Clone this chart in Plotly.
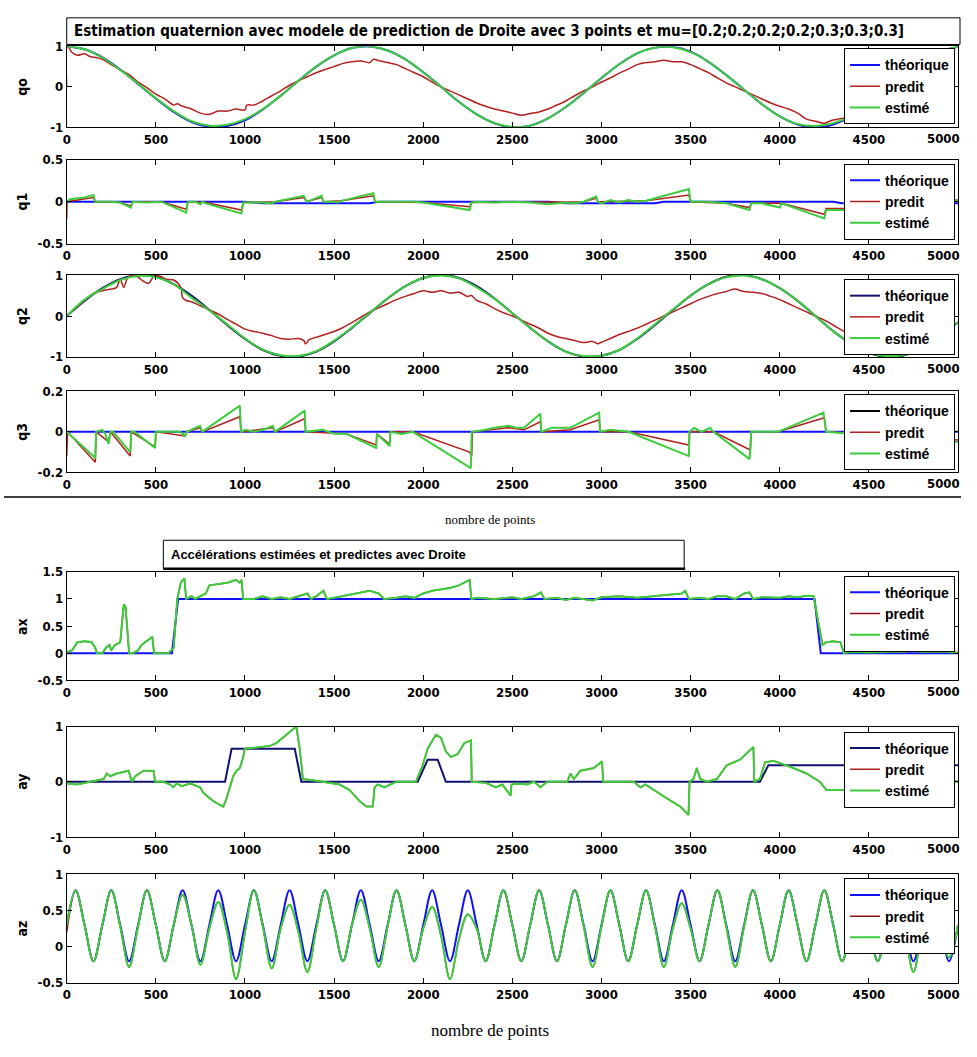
import plotly.graph_objects as go

# ---------------- DATA ----------------
X100 = list(range(0, 5001, 100))
X50 = list(range(0, 5001, 50))

Q0_THEO = [1.00, 0.93, 0.73, 0.43, 0.07, -0.29, -0.62, -0.87, -0.99, -0.97, -0.83,
           -0.56, -0.22, 0.15, 0.50, 0.78, 0.96, 1.00, 0.90, 0.68, 0.36,
           0.00, -0.37, -0.68, -0.90, -1.00, -0.96, -0.78, -0.50, -0.15, 0.22,
           0.56, 0.83, 0.97, 0.99, 0.87, 0.62, 0.29, -0.07, -0.43, -0.73,
           -0.93, -1.00, -0.93, -0.73, -0.43, -0.07, 0.29, 0.62, 0.87, 0.99]
Q0_EST = [1.00, 0.93, 0.72, 0.42, 0.08, -0.28, -0.60, -0.85, -0.96, -0.94, -0.80,
          -0.55, -0.22, 0.15, 0.50, 0.78, 0.96, 1.00, 0.90, 0.68, 0.36,
          0.00, -0.37, -0.68, -0.90, -0.99, -0.96, -0.78, -0.50, -0.15, 0.22,
          0.56, 0.83, 0.97, 0.98, 0.86, 0.62, 0.29, -0.07, -0.43, -0.73,
          -0.92, -0.97, -0.90, -0.72, -0.43, -0.07, 0.29, 0.62, 0.87, 0.99]
Q0_PRED = [(0, 0.0), (5, 1.0), (30, 0.85), (60, 0.78), (100, 0.82), (130, 0.75), (170, 0.72),
           (200, 0.68), (250, 0.55), (300, 0.42), (350, 0.30), (400, 0.12), (450, -0.02),
           (500, -0.18), (550, -0.30), (600, -0.45), (620, -0.42), (650, -0.48), (700, -0.55),
           (750, -0.65), (800, -0.68), (850, -0.60), (900, -0.60), (950, -0.55), (1000, -0.57),
           (1010, -0.45), (1050, -0.45), (1100, -0.35), (1150, -0.22), (1200, -0.10), (1250, 0.04),
           (1300, 0.15), (1350, 0.25), (1400, 0.35), (1450, 0.43), (1500, 0.50), (1550, 0.58),
           (1600, 0.62), (1650, 0.64), (1700, 0.60), (1720, 0.68), (1750, 0.65), (1800, 0.60),
           (1850, 0.55), (1900, 0.45), (1950, 0.35), (2000, 0.25), (2050, 0.12), (2100, 0.0),
           (2150, -0.10), (2200, -0.20), (2250, -0.30), (2300, -0.40), (2350, -0.48), (2400, -0.55),
           (2450, -0.60), (2500, -0.65), (2550, -0.70), (2600, -0.66), (2650, -0.62), (2700, -0.55),
           (2750, -0.45), (2800, -0.35), (2850, -0.22), (2900, -0.10), (2950, 0.0), (3000, 0.12),
           (3050, 0.22), (3100, 0.34), (3150, 0.44), (3200, 0.55), (3250, 0.60), (3300, 0.62),
           (3350, 0.66), (3400, 0.62), (3450, 0.62), (3500, 0.55), (3550, 0.45), (3600, 0.35),
           (3650, 0.22), (3700, 0.10), (3750, 0.0), (3800, -0.10), (3850, -0.20), (3900, -0.30),
           (3950, -0.40), (4000, -0.48), (4050, -0.55), (4100, -0.65), (4150, -0.80), (4200, -0.85),
           (4250, -0.90), (4280, -0.85), (4300, -0.82), (4350, -0.78), (4400, -0.72), (4500, -0.43),
           (4600, -0.07), (4700, 0.29), (4800, 0.62), (4900, 0.87), (5000, 0.99)]

Q1_THEO = [(0, 0.0), (1000, 0.0), (1100, -0.02), (1700, -0.02), (1750, 0.0), (2700, 0.0),
           (2800, -0.02), (3300, -0.02), (3350, 0.0), (4300, 0.0), (4350, -0.02), (5000, -0.02)]
Q1_EST = [(0, 0.0), (20, 0.03), (100, 0.05), (150, 0.08), (160, 0.0), (250, 0.0), (300, -0.01),
          (360, -0.07), (370, 0.0), (450, -0.01), (530, 0.0), (670, -0.13), (680, 0.0), (720, 0.0),
          (750, -0.03), (760, 0.0), (780, -0.02), (980, -0.14), (990, -0.01), (1100, -0.01),
          (1150, -0.02), (1170, 0.0), (1330, 0.07), (1345, 0.0), (1360, 0.01), (1430, 0.07),
          (1440, 0.0), (1500, 0.0), (1520, -0.01), (1540, 0.01), (1720, 0.10), (1730, 0.0),
          (1800, 0.0), (1950, 0.0), (2000, -0.01), (2260, -0.10), (2270, -0.01), (2300, 0.0),
          (2400, -0.01), (2500, 0.0), (2600, -0.01), (2700, -0.03), (2800, -0.01), (2850, -0.02),
          (2900, 0.0), (2970, 0.06), (2980, 0.0), (3000, -0.02), (3050, 0.02), (3100, -0.01),
          (3150, 0.02), (3200, 0.0), (3250, 0.01), (3490, 0.15), (3500, 0.0), (3600, 0.0),
          (3700, -0.02), (3830, -0.10), (3840, -0.02), (3900, -0.02), (4000, -0.07), (4010, -0.02),
          (4250, -0.20), (4260, -0.10), (4400, -0.10), (4700, -0.05), (5000, 0.02)]
Q1_PRED = [(0, -0.2), (2, 0.0), (150, 0.05), (160, 0.0), (300, -0.01), (360, -0.05), (370, 0.0),
           (530, 0.0), (670, -0.09), (680, 0.0), (780, -0.01), (980, -0.10), (990, -0.01),
           (1170, 0.0), (1330, 0.05), (1345, 0.0), (1430, 0.05), (1440, 0.0), (1540, 0.01),
           (1720, 0.07), (1730, 0.0), (2000, -0.01), (2260, -0.06), (2270, -0.01), (2900, 0.0),
           (2970, 0.04), (2980, 0.0), (3250, 0.01), (3490, 0.08), (3500, 0.0), (3700, -0.02),
           (3830, -0.07), (3840, -0.02), (4010, -0.02), (4250, -0.15), (4260, -0.08),
           (4400, -0.08), (4700, -0.04), (5000, 0.02)]

Q2_THEO = [0.00, 0.37, 0.68, 0.90, 1.00, 0.96, 0.78, 0.50, 0.15, -0.22, -0.56,
           -0.83, -0.97, -0.99, -0.87, -0.62, -0.29, 0.07, 0.43, 0.73, 0.93,
           1.00, 0.93, 0.73, 0.43, 0.07, -0.29, -0.62, -0.87, -0.99, -0.97,
           -0.83, -0.56, -0.22, 0.15, 0.50, 0.78, 0.96, 1.00, 0.90, 0.68,
           0.37, 0.00, -0.37, -0.68, -0.90, -1.00, -0.96, -0.78, -0.50, -0.15]
Q2_EST = [0.00, 0.40, 0.66, 0.88, 0.98, 0.95, 0.78, 0.45, 0.14, -0.20, -0.55,
          -0.82, -0.96, -0.98, -0.86, -0.60, -0.28, 0.08, 0.43, 0.73, 0.93,
          0.99, 0.92, 0.70, 0.42, 0.07, -0.29, -0.62, -0.87, -0.98, -0.97,
          -0.83, -0.55, -0.20, 0.16, 0.50, 0.78, 0.95, 0.99, 0.90, 0.68,
          0.37, 0.00, -0.37, -0.68, -0.90, -0.98, -0.95, -0.78, -0.50, -0.15]
Q2_PRED = [(0, 0.0), (50, 0.2), (100, 0.38), (150, 0.55), (200, 0.62), (250, 0.66), (280, 0.70),
           (300, 0.90), (320, 0.70), (340, 0.92), (370, 1.0), (400, 0.95), (430, 0.85), (460, 0.80),
           (490, 0.98), (520, 0.98), (560, 0.90), (600, 0.88), (640, 0.70), (650, 0.45), (670, 0.38),
           (700, 0.35), (750, 0.25), (800, 0.15), (850, 0.05), (900, -0.08), (950, -0.20),
           (1000, -0.32), (1050, -0.38), (1100, -0.42), (1150, -0.48), (1200, -0.55), (1250, -0.57),
           (1300, -0.55), (1330, -0.60), (1340, -0.68), (1360, -0.58), (1400, -0.52), (1450, -0.45),
           (1500, -0.38), (1550, -0.28), (1600, -0.16), (1650, -0.03), (1700, 0.10), (1750, 0.20),
           (1800, 0.30), (1850, 0.40), (1900, 0.48), (1950, 0.55), (2000, 0.62), (2050, 0.58),
           (2100, 0.62), (2150, 0.56), (2200, 0.58), (2250, 0.48), (2270, 0.50), (2300, 0.38),
           (2350, 0.30), (2400, 0.18), (2450, 0.08), (2500, 0.0), (2550, -0.10), (2600, -0.20),
           (2650, -0.30), (2700, -0.42), (2750, -0.50), (2800, -0.55), (2850, -0.60), (2900, -0.65),
           (2950, -0.62), (2980, -0.68), (3000, -0.64), (3050, -0.55), (3100, -0.45), (3150, -0.38),
           (3200, -0.30), (3250, -0.20), (3300, -0.10), (3350, 0.0), (3400, 0.10), (3450, 0.20),
           (3500, 0.30), (3550, 0.40), (3600, 0.48), (3650, 0.55), (3700, 0.60), (3750, 0.66),
           (3780, 0.62), (3800, 0.60), (3850, 0.58), (3900, 0.55), (3950, 0.48), (4000, 0.40),
           (4050, 0.30), (4100, 0.20), (4150, 0.10), (4200, 0.0), (4250, -0.10), (4300, -0.22),
           (4350, -0.35), (4400, -0.45), (4450, -0.55), (4500, -0.78), (4550, -0.88), (4600, -0.88),
           (4650, -0.75), (4700, -0.78), (4720, -0.55), (4740, -0.80), (4800, -0.75), (4850, -0.62),
           (4900, -0.50), (5000, -0.15)]

Q3_THEO = [(0, 0.0), (5000, 0.0)]
Q3_EST = [(0, 0.0), (160, -0.13), (165, 0.0), (200, 0.01), (216, -0.01), (235, -0.06), (245, 0.0),
          (260, 0.0), (356, -0.10), (362, 0.0), (380, 0.0), (496, -0.08), (500, 0.0), (636, 0.0),
          (664, -0.02), (673, 0.0), (748, 0.03), (760, 0.0), (971, 0.13), (978, 0.0), (1000, 0.01),
          (1050, 0.0), (1101, 0.01), (1157, 0.03), (1168, 0.0), (1335, 0.105), (1340, 0.0),
          (1437, 0.01), (1500, -0.01), (1568, -0.01), (1736, -0.08), (1740, -0.01), (1811, -0.07),
          (1816, 0.0), (1880, -0.01), (1941, 0.0), (2267, -0.18), (2272, 0.0), (2350, 0.01),
          (2400, 0.02), (2478, 0.03), (2520, 0.02), (2565, 0.02), (2657, 0.09), (2662, 0.0),
          (2720, 0.02), (2825, 0.02), (2987, 0.095), (2992, 0.0), (3050, 0.01), (3152, 0.0),
          (3490, -0.12), (3494, 0.0), (3520, 0.02), (3560, 0.0), (3610, 0.02), (3628, 0.0),
          (3831, -0.135), (3840, 0.0), (3952, 0.0), (3990, 0.0), (4245, 0.095), (4260, 0.0),
          (5000, -0.05)]
Q3_PRED = [(0, -0.12), (5, 0.0), (160, -0.15), (165, 0.0), (235, -0.05), (245, 0.0),
           (356, -0.12), (362, 0.0), (496, -0.075), (500, 0.0), (664, -0.02), (673, 0.0),
           (748, 0.02), (760, 0.0), (971, 0.075), (978, 0.0), (1157, 0.02), (1168, 0.0),
           (1335, 0.065), (1340, 0.0), (1568, -0.01), (1736, -0.065), (1740, -0.01), (1811, -0.06),
           (1816, 0.0), (1941, 0.0), (2260, -0.10), (2272, -0.12), (2276, 0.0), (2478, 0.02),
           (2565, 0.01), (2657, 0.05), (2662, 0.0), (2825, 0.01), (2987, 0.06), (2992, 0.0),
           (3152, 0.0), (3490, -0.065), (3494, 0.0), (3628, 0.0), (3835, -0.09), (3840, 0.0),
           (3990, 0.0), (4250, 0.07), (4260, 0.0), (5000, -0.04)]

AX_THEO = [(0, 0.0), (590, 0.0), (625, 1.0), (4195, 1.0), (4230, 0.0), (5000, 0.0)]
AX_EST = [(0, 0.02), (30, 0.05), (60, 0.20), (100, 0.22), (140, 0.20), (160, 0.10), (170, 0.0),
          (200, 0.0), (220, 0.10), (240, 0.15), (250, 0.05), (270, 0.15), (300, 0.20), (320, 0.90),
          (330, 0.85), (350, 0.0), (370, 0.0), (400, 0.05), (420, 0.15), (440, 0.20), (460, 0.25),
          (480, 0.30), (490, 0.0), (570, 0.0), (600, 0.10), (620, 1.0), (640, 1.30), (660, 1.38),
          (670, 1.0), (700, 1.05), (720, 1.0), (750, 1.05), (780, 1.10), (800, 1.25), (850, 1.28),
          (900, 1.30), (950, 1.35), (970, 1.30), (980, 1.35), (990, 1.0), (1050, 1.0), (1100, 1.05),
          (1150, 1.0), (1200, 1.03), (1250, 1.0), (1300, 1.05), (1350, 1.10), (1370, 1.0),
          (1400, 1.05), (1440, 1.15), (1460, 1.0), (1500, 1.02), (1550, 1.05), (1600, 1.08),
          (1650, 1.12), (1700, 1.15), (1750, 1.10), (1780, 1.0), (1850, 1.02), (1900, 1.05),
          (1950, 1.02), (2000, 1.10), (2050, 1.15), (2100, 1.18), (2150, 1.20), (2200, 1.25),
          (2240, 1.32), (2260, 1.35), (2270, 1.0), (2300, 1.02), (2400, 1.0), (2500, 1.03),
          (2550, 1.0), (2620, 1.05), (2660, 1.12), (2680, 1.0), (2750, 1.02), (2800, 0.98),
          (2850, 1.02), (2900, 1.0), (2950, 0.97), (3000, 1.03), (3100, 1.05), (3200, 1.02),
          (3300, 1.05), (3400, 1.08), (3450, 1.10), (3470, 1.15), (3490, 1.0), (3550, 1.02),
          (3600, 1.0), (3650, 1.05), (3700, 1.05), (3750, 1.0), (3800, 1.10), (3830, 1.12),
          (3850, 1.0), (3900, 1.03), (4000, 1.02), (4050, 1.05), (4100, 1.03), (4150, 1.06),
          (4190, 1.05), (4220, 0.50), (4240, 0.15), (4260, 0.20), (4300, 0.22), (4340, 0.20),
          (4360, 0.0), (4400, 0.02), (4500, 0.01), (4600, 0.02), (4650, 0.03), (4700, 0.02),
          (4720, 0.40), (4740, 0.05), (4800, 0.02), (4900, 0.03), (5000, 0.01)]

AY_THEO = [(0, 0.0), (888, 0.0), (925, 0.6), (1279, 0.6), (1316, 0.0), (1969, 0.0), (2025, 0.4),
           (2081, 0.4), (2127, 0.0), (3889, 0.0), (3936, 0.3), (5000, 0.3)]
AY_EST = [(0, -0.03), (58, -0.05), (132, 0.0), (207, 0.05), (225, 0.15), (244, 0.10), (281, 0.15),
          (347, 0.20), (365, 0.0), (384, 0.10), (431, 0.20), (487, 0.20), (496, 0.0), (542, 0.0),
          (580, -0.05), (598, -0.10), (617, -0.03), (645, -0.08), (692, -0.03), (748, -0.10),
          (766, -0.20), (822, -0.35), (878, -0.45), (897, -0.30), (915, -0.10), (934, 0.10),
          (953, 0.20), (971, 0.25), (990, 0.45), (999, 0.60), (1064, 0.62), (1139, 0.65),
          (1176, 0.70), (1213, 0.80), (1288, 1.0), (1307, 0.60), (1325, 0.05), (1400, 0.02),
          (1475, -0.02), (1531, -0.05), (1587, -0.15), (1643, -0.35), (1681, -0.45), (1717, -0.45),
          (1727, -0.10), (1745, -0.05), (1782, -0.10), (1811, -0.05), (1848, 0.0), (1959, 0.0),
          (1997, 0.30), (2025, 0.60), (2071, 0.85), (2099, 0.80), (2127, 0.55), (2155, 0.45),
          (2193, 0.50), (2230, 0.70), (2268, 0.75), (2272, 0.0), (2351, -0.02), (2407, -0.10),
          (2444, -0.05), (2490, -0.25), (2495, -0.05), (2528, -0.03), (2584, -0.05), (2621, 0.0),
          (2658, -0.10), (2696, 0.0), (2808, 0.0), (2826, 0.15), (2845, 0.05), (2882, 0.20),
          (2957, 0.25), (3003, 0.37), (3009, 0.0), (3181, 0.0), (3218, -0.10), (3246, -0.05),
          (3292, -0.15), (3367, -0.30), (3442, -0.45), (3488, -0.60), (3494, 0.0), (3516, 0.05),
          (3535, 0.25), (3554, 0.05), (3591, 0.0), (3647, 0.05), (3703, 0.30), (3777, 0.40),
          (3852, 0.63), (3857, 0.0), (3889, 0.05), (3917, 0.35), (3964, 0.38), (4020, 0.32),
          (4076, 0.25), (4150, 0.15), (4225, 0.0), (4262, -0.15), (4350, -0.15), (4500, -0.20),
          (4700, -0.10), (4900, 0.05), (5000, 0.0)]

AZ_THEO = [0.3, 0.78, 0.3, -0.2, 0.3, 0.78, 0.3, -0.2, 0.3, 0.78, 0.3, -0.2, 0.3, 0.78, 0.3, -0.2,
           0.3, 0.78, 0.3, -0.2, 0.3, 0.78, 0.3, -0.2, 0.3, 0.78, 0.3, -0.2, 0.3, 0.78, 0.3, -0.2,
           0.3, 0.78, 0.3, -0.2, 0.3, 0.78, 0.3, -0.2, 0.3, 0.78, 0.3, -0.2, 0.3, 0.78, 0.3, -0.2,
           0.3, 0.78, 0.3, -0.2, 0.3, 0.78, 0.3, -0.2, 0.3, 0.78, 0.3, -0.2, 0.3, 0.78, 0.3, -0.2,
           0.3, 0.78, 0.3, -0.2, 0.3, 0.78, 0.3, -0.2, 0.3, 0.78, 0.3, -0.2, 0.3, 0.78, 0.3, -0.2,
           0.3, 0.78, 0.3, -0.2, 0.3, 0.78, 0.3, -0.2, 0.3, 0.78, 0.3, -0.2, 0.3, 0.78, 0.3, -0.2,
           0.3, 0.78, 0.3, -0.2, 0.3]
AZ_EST = [0.3, 0.78, 0.3, -0.2, 0.3, 0.78, 0.28, -0.28, 0.28, 0.78, 0.3, -0.2, 0.3, 0.72, 0.3, -0.25,
          0.25, 0.62, 0.2, -0.45, 0.2, 0.78, 0.28, -0.3, 0.25, 0.58, 0.2, -0.35, 0.25, 0.78, 0.3, -0.2,
          0.3, 0.65, 0.25, -0.28, 0.28, 0.78, 0.3, -0.2, 0.25, 0.55, 0.15, -0.45, 0.1, 0.45, 0.25, -0.2,
          0.3, 0.78, 0.3, -0.2, 0.3, 0.78, 0.3, -0.2, 0.3, 0.78, 0.28, -0.28, 0.28, 0.78, 0.3, -0.2,
          0.3, 0.78, 0.28, -0.28, 0.25, 0.6, 0.25, -0.2, 0.3, 0.78, 0.28, -0.28, 0.28, 0.78, 0.3, -0.2,
          0.3, 0.78, 0.3, -0.2, 0.3, 0.78, 0.3, -0.2, 0.3, 0.78, 0.3, -0.2, 0.3, 0.78, 0.25, -0.35,
          0.28, 0.78, 0.3, -0.15, 0.3]
AZ_PRED = [0.2] + AZ_EST[1:]

XTICKS = list(range(0, 5001, 500))
SERIES_NAMES = ["théorique", "predit", "estimé"]

# ---------------- STYLE / LAYOUT ----------------
# the usable page width is ~962px (wider figures get shrunk), so keep 1:1 pixel mapping
W, H = 961, 1050
def fx(p): return p / W
def fy(p): return 1 - p / H

NARROW = "Liberation Sans Narrow, Arial Narrow, DejaVu Sans Condensed, sans-serif"
SANS = "Liberation Sans, Arial, sans-serif"
SERIF = "Liberation Serif, Times New Roman, serif"

BLUE = "#1010ff"
NAVY = "#101070"
RED = "#b42020"
DRED = "#8b1010"
GREEN = "#3ccc3c"

def xy(pairs):
    return [p[0] for p in pairs], [p[1] for p in pairs]

panels = [
    ("qo", 40, 122, [-1, 1], [-1, 0, 1], ["-1", "0", "1"],
     (X100, Q0_THEO), xy(Q0_PRED), (X100, Q0_EST), BLUE, BLUE, RED, True, 42),
    ("q1", 155, 240, [-0.5, 0.5], [-0.5, 0, 0.5], ["-0.5", "0", "0.5"],
     xy(Q1_THEO), xy(Q1_PRED), xy(Q1_EST), BLUE, BLUE, RED, False, 159),
    ("q2", 272, 355, [-1, 1], [-1, 0, 1], ["-1", "0", "1"],
     (X100, Q2_THEO), xy(Q2_PRED), (X100, Q2_EST), NAVY, NAVY, RED, True, 276),
    ("q3", 390, 472, [-0.2, 0.2], [-0.2, 0, 0.2], ["-0.2", "0", "0.2"],
     xy(Q3_THEO), xy(Q3_PRED), xy(Q3_EST), BLUE, "#000000", RED, False, 393),
    ("ax", 573, 683, [-0.5, 1.5], [-0.5, 0, 0.5, 1, 1.5], ["-0.5", "0", "0.5", "1", "1.5"],
     xy(AX_THEO), xy(AX_EST), xy(AX_EST), BLUE, BLUE, DRED, False, 577),
    ("ay", 730, 842, [-1, 1], [-1, 0, 1], ["-1", "0", "1"],
     xy(AY_THEO), xy(AY_EST), xy(AY_EST), NAVY, NAVY, RED, False, 735),
    ("az", 880, 990, [-0.5, 1], [-0.5, 0, 0.5, 1], ["-0.5", "0", "0.5", "1"],
     (X50, AZ_THEO), (X50, AZ_PRED), (X50, AZ_EST), BLUE, BLUE, DRED, True, 884),
]

fig = go.Figure()
layout = dict(width=W, height=H, margin=dict(l=0, r=0, t=0, b=0),
              paper_bgcolor="white", plot_bgcolor="white", showlegend=True)
annotations = []
shapes = []
TICKFONT = dict(family=NARROW, size=13, color="black", weight="bold")

for i, (lab, top, bot, yr, tv, tt, theo, pred, est, tcol, lcol, pcol, smooth, legtop) in enumerate(panels):
    k = "" if i == 0 else str(i + 1)
    leg = "legend" + k
    xa, ya = "x" + k, "y" + k
    shape = "spline" if smooth else "linear"
    if lcol != tcol:
        fig.add_trace(go.Scatter(x=theo[0], y=theo[1], mode="lines", xaxis=xa, yaxis=ya,
                                 line=dict(color=tcol, width=2, shape=shape), showlegend=False))
        fig.add_trace(go.Scatter(x=[None], y=[None], mode="lines", xaxis=xa, yaxis=ya,
                                 name=SERIES_NAMES[0], legend=leg, line=dict(color=lcol, width=2)))
    else:
        fig.add_trace(go.Scatter(x=theo[0], y=theo[1], mode="lines", xaxis=xa, yaxis=ya,
                                 name=SERIES_NAMES[0], legend=leg,
                                 line=dict(color=tcol, width=2, shape=shape)))
    fig.add_trace(go.Scatter(x=pred[0], y=pred[1], mode="lines", xaxis=xa, yaxis=ya,
                             name=SERIES_NAMES[1], legend=leg,
                             line=dict(color=pcol, width=1.5, shape=shape)))
    fig.add_trace(go.Scatter(x=est[0], y=est[1], mode="lines", xaxis=xa, yaxis=ya,
                             name=SERIES_NAMES[2], legend=leg,
                             line=dict(color=GREEN, width=2, shape=shape)))

    axcommon = dict(showline=True, linecolor="black", linewidth=1, mirror="ticks",
                    ticks="inside", ticklen=5, tickcolor="black", showgrid=False, zeroline=False,
                    tickfont=TICKFONT)
    # last x label (5000) would overflow the page edge: drawn as a right-aligned annotation instead
    xt = [str(v) for v in XTICKS[:-1]] + [""]
    layout["xaxis" + k] = dict(domain=[fx(63), fx(958)], range=[0, 5000], anchor=ya,
                               tickvals=XTICKS, ticktext=xt, **axcommon)
    layout["yaxis" + k] = dict(domain=[fy(bot), fy(top)], range=yr, anchor=xa,
                               tickvals=tv, ticktext=tt, **axcommon)
    layout[leg] = dict(x=fx(955), y=fy(legtop), xanchor="right", yanchor="top",
                       bgcolor="white", bordercolor="black", borderwidth=1,
                       font=dict(family=SANS, size=14, color="black", weight="bold"),
                       tracegroupgap=0, itemwidth=30)
    annotations.append(dict(x=fx(18), y=fy((top + bot) / 2), xref="paper", yref="paper",
                            xanchor="center", yanchor="middle",
                            text=lab, textangle=-90, showarrow=False,
                            font=dict(family=NARROW, size=14, color="black", weight="bold")))
    annotations.append(dict(x=1.0, y=fy(bot + 3), xref="paper", yref="paper",
                            xanchor="right", yanchor="top", text=str(XTICKS[-1]),
                            showarrow=False, borderpad=0, font=TICKFONT))

shapes.append(dict(type="rect", xref="paper", yref="paper", x0=fx(63), x1=fx(960), y0=fy(38), y1=fy(11),
                   line=dict(color="black", width=1), fillcolor="white"))
annotations.append(dict(x=fx(68), y=fy(24.5), xref="paper", yref="paper", xanchor="left", yanchor="middle",
                        text="Estimation quaternion avec modele de prediction de Droite avec 3 points et mu=[0.2;0.2;0.2;0.2;0.3;0.3;0.3]",
                        showarrow=False, font=dict(family=NARROW, size=15, color="black", weight="bold")))
shapes.append(dict(type="line", xref="paper", yref="paper", x0=0, x1=1, y0=fy(497), y1=fy(497),
                   line=dict(color="black", width=1.5)))
annotations.append(dict(x=fx(488), y=fy(520), xref="paper", yref="paper", xanchor="center", yanchor="middle",
                        text="nombre de points",
                        showarrow=False, font=dict(family=SERIF, size=13, color="black")))
shapes.append(dict(type="rect", xref="paper", yref="paper", x0=fx(160), x1=fx(683), y0=fy(570), y1=fy(541),
                   line=dict(color="black", width=1), fillcolor="white"))
shapes.append(dict(type="line", xref="paper", yref="paper", x0=fx(160), x1=fx(684), y0=fy(570), y1=fy(570),
                   line=dict(color="black", width=2.5)))
annotations.append(dict(x=fx(166), y=fy(555), xref="paper", yref="paper", xanchor="left", yanchor="middle",
                        text="Accélérations estimées et predictes avec Droite",
                        showarrow=False, font=dict(family=SANS, size=13, color="black", weight="bold")))
annotations.append(dict(x=fx(488), y=fy(1038), xref="paper", yref="paper", xanchor="center", yanchor="middle",
                        text="nombre de points",
                        showarrow=False, font=dict(family=SERIF, size=17, color="black")))

layout["annotations"] = annotations
layout["shapes"] = shapes
fig.update_layout(**layout)
fig.write_html("out.html")
